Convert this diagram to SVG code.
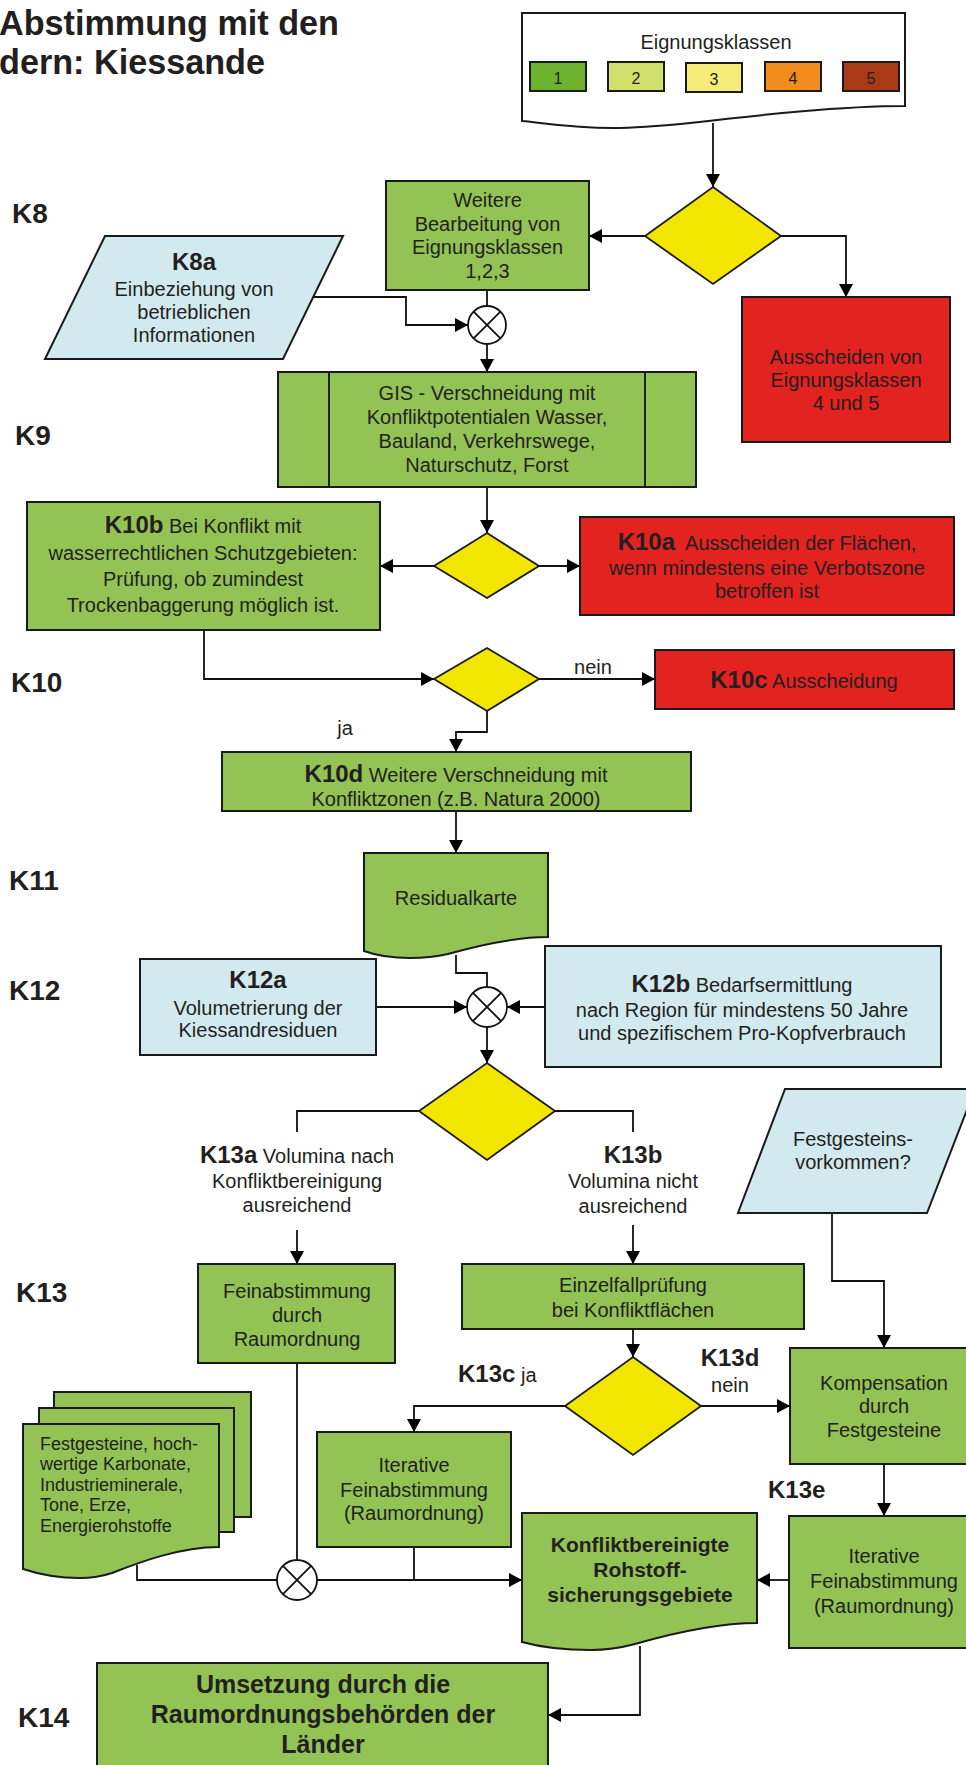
<svg xmlns="http://www.w3.org/2000/svg" width="966" height="1765" viewBox="0 0 966 1765">
<style>
.g{fill:#93c355;stroke:#1a1a1a;stroke-width:2}
.r{fill:#e2231f;stroke:#1a1a1a;stroke-width:2}
.bl{fill:#d2e9f0;stroke:#1a1a1a;stroke-width:2}
.y{fill:#f2e600;stroke:#1a1a1a;stroke-width:1.8}
.w{fill:#ffffff;stroke:#1a1a1a;stroke-width:2}
.c{fill:none;stroke:#111;stroke-width:1.8}
.ca{fill:none;stroke:#111;stroke-width:1.8;marker-end:url(#ah)}
.cx{fill:#fff;stroke:#111;stroke-width:1.8}
text{font-family:"Liberation Sans",Arial,Helvetica,sans-serif;fill:#231f20}
.t{font-size:20px;text-anchor:middle}
.s{font-size:18px}
.b{font-weight:bold}
.k{font-size:24px;font-weight:bold}
.lbl{font-size:28px;font-weight:bold}
.n{font-size:16px;text-anchor:middle}
.ti{font-size:34.2px;font-weight:bold}
</style>
<defs>
<marker id="ah" markerWidth="14" markerHeight="14" refX="13" refY="7" orient="auto" markerUnits="userSpaceOnUse"><path d="M0,0 L13,7 L0,14 z" fill="#000"/></marker>
</defs>

<g id="title">
<text class="ti" x="-1" y="35">Abstimmung mit den</text>
<text class="ti" x="-1" y="73.5">dern: Kiessande</text>
</g>

<g id="labels">
<text class="lbl" x="12" y="223">K8</text>
<text class="lbl" x="15" y="445">K9</text>
<text class="lbl" x="11" y="692">K10</text>
<text class="lbl" x="9" y="890">K11</text>
<text class="lbl" x="9" y="1000">K12</text>
<text class="lbl" x="16" y="1302">K13</text>
<text class="lbl" x="18" y="1727">K14</text>
</g>

<g id="connectors">
<path class="ca" d="M713,123 V187"/>
<path class="ca" d="M645,236 H589"/>
<path class="ca" d="M781,236 H846 V297"/>
<path class="c" d="M487,290 V306"/>
<path class="ca" d="M313,297 H406 V325 H468"/>
<path class="ca" d="M487,344 V372"/>
<path class="ca" d="M487,487 V533"/>
<path class="ca" d="M434,566 H380"/>
<path class="ca" d="M539,566 H580"/>
<path class="ca" d="M204,630 V679 H434"/>
<path class="ca" d="M539,679 H655"/>
<path class="ca" d="M487,711 V732 H456 V752"/>
<path class="ca" d="M456,811 V853"/>
<path class="c" d="M456,955 V973 H487 V987"/>
<path class="ca" d="M376,1007 H467"/>
<path class="ca" d="M545,1007 H507"/>
<path class="ca" d="M487,1027 V1063"/>
<path class="c" d="M419,1111 H297 V1132"/>
<path class="c" d="M555,1111 H633 V1132"/>
<path class="ca" d="M297,1230 V1264"/>
<path class="ca" d="M633,1225 V1264"/>
<path class="ca" d="M633,1329 V1357"/>
<path class="ca" d="M701,1406 H790"/>
<path class="ca" d="M565,1406 H414 V1432"/>
<path class="ca" d="M832,1213 V1281 H884 V1348"/>
<path class="ca" d="M884,1464 V1516"/>
<path class="c" d="M297,1363 V1560"/>
<path class="c" d="M137,1565 V1580 H277"/>
<path class="ca" d="M317,1580 H522"/>
<path class="c" d="M414,1547 V1580"/>
<path class="ca" d="M789,1580 H757"/>
<path class="ca" d="M640,1646 V1715 H548"/>
</g>

<g id="eignungsklassen">
<path class="w" d="M522,13 H905 V106 C840,106 760,115 690,123 C660,126 640,128 613,128 C570,128 545,123 522,121 Z"/>
<text class="t" x="716" y="49">Eignungsklassen</text>
<rect x="530" y="62" width="56" height="29" fill="#6db32f" stroke="#1a1a1a" stroke-width="2"/>
<rect x="608" y="62" width="56" height="29" fill="#d1df6d" stroke="#1a1a1a" stroke-width="2"/>
<rect x="686" y="63" width="56" height="29" fill="#f7ec78" stroke="#1a1a1a" stroke-width="2"/>
<rect x="765" y="62" width="56" height="29" fill="#f28c1c" stroke="#1a1a1a" stroke-width="2"/>
<rect x="843" y="62" width="56" height="29" fill="#a83a17" stroke="#1a1a1a" stroke-width="2"/>
<text class="n" x="558" y="84">1</text>
<text class="n" x="636" y="84">2</text>
<text class="n" x="714" y="85">3</text>
<text class="n" x="793" y="84">4</text>
<text class="n" x="871" y="84">5</text>
</g>

<g id="d1"><polygon class="y" points="713,187 781,236 713,284 645,236"/></g>

<g id="k8">
<rect class="g" x="386" y="181" width="203" height="109"/>
<text class="t" x="487.5" y="207">Weitere</text>
<text class="t" x="487.5" y="231">Bearbeitung von</text>
<text class="t" x="487.5" y="254">Eignungsklassen</text>
<text class="t" x="487.5" y="278">1,2,3</text>
</g>

<g id="aus45">
<rect class="r" x="742" y="297" width="208" height="145"/>
<text class="t" x="846" y="364">Ausscheiden von</text>
<text class="t" x="846" y="387">Eignungsklassen</text>
<text class="t" x="846" y="410">4 und 5</text>
</g>

<g id="k8a">
<polygon class="bl" points="105,236 343,236 283,359 45,359"/>
<text class="t k" x="194" y="270">K8a</text>
<text class="t" x="194" y="296">Einbeziehung von</text>
<text class="t" x="194" y="319">betrieblichen</text>
<text class="t" x="194" y="342">Informationen</text>
</g>

<g id="x1">
<circle class="cx" cx="487" cy="325" r="19"/>
<path class="c" d="M473.6,311.6 L500.4,338.4 M500.4,311.6 L473.6,338.4"/>
</g>

<g id="k9">
<rect class="g" x="278" y="372" width="418" height="115"/>
<path class="c" d="M329,372 V487 M645,372 V487"/>
<text class="t" x="487" y="400">GIS - Verschneidung mit</text>
<text class="t" x="487" y="424">Konfliktpotentialen Wasser,</text>
<text class="t" x="487" y="448">Bauland, Verkehrswege,</text>
<text class="t" x="487" y="472">Naturschutz, Forst</text>
</g>

<g id="d2"><polygon class="y" points="487,533 539,566 487,598 434,566"/></g>

<g id="k10b">
<rect class="g" x="27" y="502" width="353" height="128"/>
<text class="t" x="203" y="533"><tspan class="k">K10b</tspan> Bei Konflikt mit</text>
<text class="t" x="203" y="560">wasserrechtlichen Schutzgebieten:</text>
<text class="t" x="203" y="586">Prüfung, ob zumindest</text>
<text class="t" x="203" y="612">Trockenbaggerung möglich ist.</text>
</g>

<g id="k10a">
<rect class="r" x="580" y="517" width="374" height="98"/>
<text class="t" x="767" y="550"><tspan class="k">K10a</tspan><tspan dx="10">Ausscheiden der Flächen,</tspan></text>
<text class="t" x="767" y="575">wenn mindestens eine Verbotszone</text>
<text class="t" x="767" y="598">betroffen ist</text>
</g>

<g id="d3"><polygon class="y" points="487,648 539,679 487,711 434,679"/></g>
<text class="t" x="593" y="674">nein</text>
<text class="t" x="345" y="735">ja</text>

<g id="k10c">
<rect class="r" x="655" y="650" width="299" height="59"/>
<text class="t" x="804" y="688"><tspan class="k">K10c</tspan> Ausscheidung</text>
</g>

<g id="k10d">
<rect class="g" x="222" y="752" width="469" height="59"/>
<text class="t" x="456" y="782"><tspan class="k">K10d</tspan> Weitere Verschneidung mit</text>
<text class="t" x="456" y="806">Konfliktzonen (z.B. Natura 2000)</text>
</g>

<g id="k11">
<path class="g" d="M364,853 H548 V937 C515,937 480,945 448,954 C435,957 420,958 410,958 C390,958 375,955 364,951 Z"/>
<text class="t" x="456" y="905">Residualkarte</text>
</g>

<g id="k12a">
<rect class="bl" x="140" y="959" width="236" height="96"/>
<text class="t k" x="258" y="988">K12a</text>
<text class="t" x="258" y="1015">Volumetrierung der</text>
<text class="t" x="258" y="1037">Kiessandresiduen</text>
</g>

<g id="k12b">
<rect class="bl" x="545" y="946" width="396" height="121"/>
<text class="t" x="742" y="992"><tspan class="k">K12b</tspan> Bedarfsermittlung</text>
<text class="t" x="742" y="1017">nach Region für mindestens 50 Jahre</text>
<text class="t" x="742" y="1040">und spezifischem Pro-Kopfverbrauch</text>
</g>

<g id="x2">
<circle class="cx" cx="487" cy="1007" r="20"/>
<path class="c" d="M472.9,992.9 L501.1,1021.1 M501.1,992.9 L472.9,1021.1"/>
</g>

<g id="d4"><polygon class="y" points="487,1063 555,1111 487,1160 419,1111"/></g>

<g id="k13a">
<text class="t" x="297" y="1163"><tspan class="k">K13a</tspan> Volumina nach</text>
<text class="t" x="297" y="1188">Konfliktbereinigung</text>
<text class="t" x="297" y="1212">ausreichend</text>
</g>

<g id="k13b">
<text class="t k" x="633" y="1163">K13b</text>
<text class="t" x="633" y="1188">Volumina nicht</text>
<text class="t" x="633" y="1213">ausreichend</text>
</g>

<g id="festgestein">
<polygon class="bl" points="785,1089 975,1089 927,1213 738,1213"/>
<text class="t" x="853" y="1146">Festgesteins-</text>
<text class="t" x="853" y="1169">vorkommen?</text>
</g>

<g id="fein">
<rect class="g" x="198" y="1264" width="197" height="99"/>
<text class="t" x="297" y="1298">Feinabstimmung</text>
<text class="t" x="297" y="1322">durch</text>
<text class="t" x="297" y="1346">Raumordnung</text>
</g>

<g id="einzel">
<rect class="g" x="462" y="1264" width="342" height="65"/>
<text class="t" x="633" y="1292">Einzelfallprüfung</text>
<text class="t" x="633" y="1317">bei Konfliktflächen</text>
</g>

<g id="d5"><polygon class="y" points="633,1357 701,1406 633,1455 565,1406"/></g>

<g id="k13c">
<text x="458" y="1382"><tspan class="k">K13c</tspan><tspan style="font-size:20px"> ja</tspan></text>
</g>

<g id="k13d">
<text class="t k" x="730" y="1366">K13d</text>
<text class="t" x="730" y="1392">nein</text>
</g>

<g id="kompensation">
<rect class="g" x="790" y="1348" width="190" height="116"/>
<text class="t" x="884" y="1390">Kompensation</text>
<text class="t" x="884" y="1413">durch</text>
<text class="t" x="884" y="1437">Festgesteine</text>
</g>

<g id="k13e"><text class="k" x="768" y="1498">K13e</text></g>

<g id="stack">
<rect class="g" x="54" y="1392" width="197" height="125"/>
<rect class="g" x="39" y="1408" width="195" height="124"/>
<path class="g" d="M23,1424 H219 V1547 C180,1547 140,1562 112,1573 C100,1577 90,1578 80,1578 C55,1578 38,1574 23,1569 Z"/>
<text class="s" x="40" y="1450">Festgesteine, hoch-</text>
<text class="s" x="40" y="1470">wertige Karbonate,</text>
<text class="s" x="40" y="1491">Industrieminerale,</text>
<text class="s" x="40" y="1511">Tone, Erze,</text>
<text class="s" x="40" y="1532">Energierohstoffe</text>
</g>

<g id="iter1">
<rect class="g" x="317" y="1432" width="194" height="115"/>
<text class="t" x="414" y="1472">Iterative</text>
<text class="t" x="414" y="1497">Feinabstimmung</text>
<text class="t" x="414" y="1520">(Raumordnung)</text>
</g>

<g id="x3">
<circle class="cx" cx="297" cy="1580" r="20"/>
<path class="c" d="M282.9,1565.9 L311.1,1594.1 M311.1,1565.9 L282.9,1594.1"/>
</g>

<g id="konflikt">
<path class="g" d="M522,1513 H757 V1623 C715,1623 670,1634 635,1644 C620,1648 605,1650 591,1650 C560,1650 540,1647 522,1642 Z"/>
<text class="t b" x="640" y="1552" style="font-size:21px">Konfliktbereinigte</text>
<text class="t b" x="640" y="1577" style="font-size:21px">Rohstoff-</text>
<text class="t b" x="640" y="1602" style="font-size:21px">sicherungsgebiete</text>
</g>

<g id="iter2">
<rect class="g" x="789" y="1516" width="190" height="132"/>
<text class="t" x="884" y="1563">Iterative</text>
<text class="t" x="884" y="1588">Feinabstimmung</text>
<text class="t" x="884" y="1613">(Raumordnung)</text>
</g>

<g id="k14">
<rect class="g" x="97" y="1663" width="451" height="110"/>
<text class="t b" x="323" y="1693" style="font-size:25px">Umsetzung durch die</text>
<text class="t b" x="323" y="1723" style="font-size:25px">Raumordnungsbehörden der</text>
<text class="t b" x="323" y="1753" style="font-size:25px">Länder</text>
</g>
</svg>
